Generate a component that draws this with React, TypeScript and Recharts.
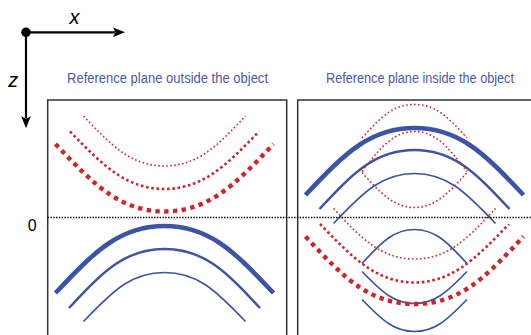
import React from "react";
import {
  LineChart,
  Line,
  XAxis,
  YAxis,
  ReferenceArea,
  ReferenceLine,
  ReferenceDot,
} from "recharts";

type Pt = { x: number; z: number };

// x across the panel (0 = panel centre), z = depth, 0 on the reference plane, growing downwards

// reference plane outside the object
const redThinOutside: Pt[] = [
  { x: -8.1, z: -10.15 }, { x: -4.05, z: -6.4 }, { x: 0, z: -5.15 }, { x: 4.05, z: -6.4 }, { x: 8.1, z: -10.15 },
];
const redMidOutside: Pt[] = [
  { x: -9.45, z: -8.6 }, { x: -4.7, z: -4.3 }, { x: 0, z: -2.85 }, { x: 4.7, z: -4.3 }, { x: 9.45, z: -8.6 },
];
const redThickOutside: Pt[] = [
  { x: -10.9, z: -7.35 }, { x: -5.45, z: -2.3 }, { x: 0, z: -0.6 }, { x: 5.45, z: -2.3 }, { x: 10.9, z: -7.35 },
];
const blueThickOutside: Pt[] = [
  { x: -10.9, z: 7.55 }, { x: -5.45, z: 2.5 }, { x: 0, z: 0.85 }, { x: 5.45, z: 2.5 }, { x: 10.9, z: 7.55 },
];
const blueMidOutside: Pt[] = [
  { x: -9.55, z: 9.05 }, { x: -4.8, z: 4.6 }, { x: 0, z: 3.15 }, { x: 4.8, z: 4.6 }, { x: 9.55, z: 9.05 },
];
const blueThinOutside: Pt[] = [
  { x: -8.1, z: 10.4 }, { x: -4.05, z: 6.7 }, { x: 0, z: 5.5 }, { x: 4.05, z: 6.7 }, { x: 8.1, z: 10.4 },
];

// reference plane inside the object
const blueThickInside: Pt[] = [
  { x: -10.9, z: -2.25 }, { x: -5.45, z: -7.3 }, { x: 0, z: -8.95 }, { x: 5.45, z: -7.3 }, { x: 10.9, z: -2.25 },
];
const blueMidInside: Pt[] = [
  { x: -9.5, z: -0.85 }, { x: -4.75, z: -5.3 }, { x: 0, z: -6.75 }, { x: 4.75, z: -5.3 }, { x: 9.5, z: -0.85 },
];
const blueThinInside: Pt[] = [
  { x: -8.1, z: 0.6 }, { x: -4.05, z: -3.15 }, { x: 0, z: -4.4 }, { x: 4.05, z: -3.15 }, { x: 8.1, z: 0.6 },
];
const blueCapInside: Pt[] = [
  { x: -5.25, z: 4.6 }, { x: -2.6, z: 2.05 }, { x: 0, z: 1.2 }, { x: 2.6, z: 2.05 }, { x: 5.25, z: 4.6 },
];
const blueCupInside: Pt[] = [
  { x: -5.25, z: 5.4 }, { x: -2.6, z: 7.8 }, { x: 0, z: 8.6 }, { x: 2.6, z: 7.8 }, { x: 5.25, z: 5.4 },
];
const blueLowCupInside: Pt[] = [
  { x: -5.25, z: 8.2 }, { x: -2.6, z: 10.6 }, { x: 0, z: 11.4 }, { x: 2.6, z: 10.6 }, { x: 5.25, z: 8.2 },
];
const redThinInside: Pt[] = [
  { x: -8.1, z: -0.9 }, { x: -4.05, z: 2.9 }, { x: 0, z: 4.15 }, { x: 4.05, z: 2.9 }, { x: 8.1, z: -0.9 },
];
const redMidInside: Pt[] = [
  { x: -9.45, z: 0.65 }, { x: -4.7, z: 5.0 }, { x: 0, z: 6.5 }, { x: 4.7, z: 5.0 }, { x: 9.45, z: 0.65 },
];
const redThickInside: Pt[] = [
  { x: -10.9, z: 1.9 }, { x: -5.45, z: 7.0 }, { x: 0, z: 8.65 }, { x: 5.45, z: 7.0 }, { x: 10.9, z: 1.9 },
];
const redCapInside: Pt[] = [
  { x: -5.25, z: -7.95 }, { x: -2.6, z: -10.5 }, { x: 0, z: -11.3 }, { x: 2.6, z: -10.5 }, { x: 5.25, z: -7.95 },
];
const redLensTopInside: Pt[] = [
  { x: -5.25, z: -4.6 }, { x: -2.6, z: -7.6 }, { x: 0, z: -8.6 }, { x: 2.6, z: -7.6 }, { x: 5.25, z: -4.6 },
];
const redLensBottomInside: Pt[] = [
  { x: -5.25, z: -4.5 }, { x: -2.6, z: -1.9 }, { x: 0, z: -1.0 }, { x: 2.6, z: -1.9 }, { x: 5.25, z: -4.5 },
];

const titles = ["Reference plane outside the object", "Reference plane inside the object"];

const RIGHT = 25; // centre of the second panel
const shift = (arc: Pt[]) => arc.map((p) => ({ x: p.x + RIGHT, z: p.z }));

const BLUE = "#3b54a4";
const RED = "#d2232a";
const TITLE = "#4a5aa8";
const FONT = "Liberation Sans, Arial, Helvetica, sans-serif";

const solid = (w: number) => ({ stroke: BLUE, width: w, dash: undefined as string | undefined });
const dotted = (w: number, gap: number) => ({ stroke: RED, width: w, dash: `${w} ${gap}` });

const series = [
  { key: "b1", data: blueThickOutside, ...solid(4.6) },
  { key: "b2", data: blueMidOutside, ...solid(2.5) },
  { key: "b3", data: blueThinOutside, ...solid(1.6) },
  { key: "b4", data: shift(blueThickInside), ...solid(4.6) },
  { key: "b5", data: shift(blueMidInside), ...solid(2.5) },
  { key: "b6", data: shift(blueThinInside), ...solid(1.6) },
  { key: "b7", data: shift(blueCapInside), ...solid(1.7) },
  { key: "b8", data: shift(blueCupInside), ...solid(1.7) },
  { key: "b9", data: shift(blueLowCupInside), ...solid(1.7) },
  { key: "r1", data: redThinOutside, ...dotted(1.6, 2.4) },
  { key: "r2", data: redMidOutside, ...dotted(2.6, 2.7) },
  { key: "r3", data: redThickOutside, ...dotted(4.4, 4.4) },
  { key: "r4", data: shift(redThinInside), ...dotted(1.6, 2.4) },
  { key: "r5", data: shift(redMidInside), ...dotted(2.6, 2.7) },
  { key: "r6", data: shift(redThickInside), ...dotted(4.4, 4.4) },
  { key: "r7", data: shift(redCapInside), ...dotted(1.6, 2.4) },
  { key: "r8", data: shift(redLensTopInside), ...dotted(1.6, 2.4) },
  { key: "r9", data: shift(redLensBottomInside), ...dotted(1.6, 2.4) },
];

const Arrow = (props: any) => {
  const { x1, y1, x2, y2 } = props;
  const len = Math.hypot(x2 - x1, y2 - y1);
  const ux = (x2 - x1) / len;
  const uy = (y2 - y1) / len;
  const bx = x2 - ux * 12;
  const by = y2 - uy * 12;
  const h = 4.8;
  return (
    <g>
      <line x1={x1} y1={y1} x2={bx + ux * 2} y2={by + uy * 2} stroke="#000" strokeWidth={2.2} />
      <polygon
        points={`${x2},${y2} ${bx - uy * h},${by + ux * h} ${bx + ux * 2.5},${by + uy * 2.5} ${bx + uy * h},${by - ux * h}`}
        fill="#000"
      />
    </g>
  );
};

const tag = (text: string, style: any) => (p: any) => (
  <text x={p.cx} y={p.cy} textAnchor="middle" fontFamily={FONT} {...style}>
    {text}
  </text>
);

// narrow (condensed) title text
const title = (text: string, sx: number) => (p: any) => (
  <text
    transform={`translate(${p.cx},${p.cy}) scale(${sx},1)`}
    x={0}
    y={0}
    textAnchor="middle"
    fontFamily={FONT}
    fontSize={15.5}
    fill={TITLE}
  >
    {text}
  </text>
);

export default function App() {
  return (
    <div style={{ position: "fixed", left: 0, top: 0, width: 531, height: 335, overflow: "hidden", background: "#fff" }}>
      <LineChart width={531} height={335} margin={{ top: 0, right: 0, bottom: 0, left: 0 }}>
        <XAxis type="number" dataKey="x" domain={[-16.45, 36.65]} allowDataOverflow hide />
        <YAxis type="number" dataKey="z" domain={[-21.75, 11.75]} allowDataOverflow reversed hide />

        <ReferenceArea x1={-11.68} x2={12.22} y1={-11.75} y2={14} fill="none" stroke="#333" strokeWidth={1.5} ifOverflow="visible" />
        <ReferenceArea x1={13.32} x2={37.22} y1={-11.75} y2={14} fill="none" stroke="#333" strokeWidth={1.5} ifOverflow="visible" />

        {series.map((s) => (
          <Line
            key={s.key}
            data={s.data}
            dataKey="z"
            type="natural"
            stroke={s.stroke}
            strokeWidth={s.width}
            strokeDasharray={s.dash}
            dot={false}
            activeDot={false}
            isAnimationActive={false}
          />
        ))}

        <ReferenceLine
          segment={[{ x: -11.68, y: 0 }, { x: 37.22, y: 0 }]}
          stroke="#000"
          strokeWidth={1.5}
          strokeDasharray="1.4 1.4"
          ifOverflow="visible"
        />

        {/* x / z axes sketch */}
        <ReferenceLine segment={[{ x: -13.85, y: -18.52 }, { x: -3.95, y: -18.52 }]} shape={Arrow} ifOverflow="visible" />
        <ReferenceLine segment={[{ x: -13.85, y: -18.52 }, { x: -13.85, y: -8.92 }]} shape={Arrow} ifOverflow="visible" />
        <ReferenceDot x={-13.85} y={-18.52} r={4.8} fill="#000" stroke="none" ifOverflow="visible" />

        <ReferenceDot x={-9.0} y={-19.35} ifOverflow="visible" shape={tag("x", { fontSize: 20, fontStyle: "italic" })} />
        <ReferenceDot x={-15.12} y={-13.02} ifOverflow="visible" shape={tag("z", { fontSize: 20, fontStyle: "italic" })} />
        <ReferenceDot x={-13.22} y={1.32} ifOverflow="visible" shape={tag("0", { fontSize: 16 })} />

        <ReferenceDot x={0.3} y={-13.48} ifOverflow="visible" shape={title(titles[0], 0.84)} />
        <ReferenceDot x={25.55} y={-13.48} ifOverflow="visible" shape={title(titles[1], 0.817)} />
      </LineChart>
    </div>
  );
}
